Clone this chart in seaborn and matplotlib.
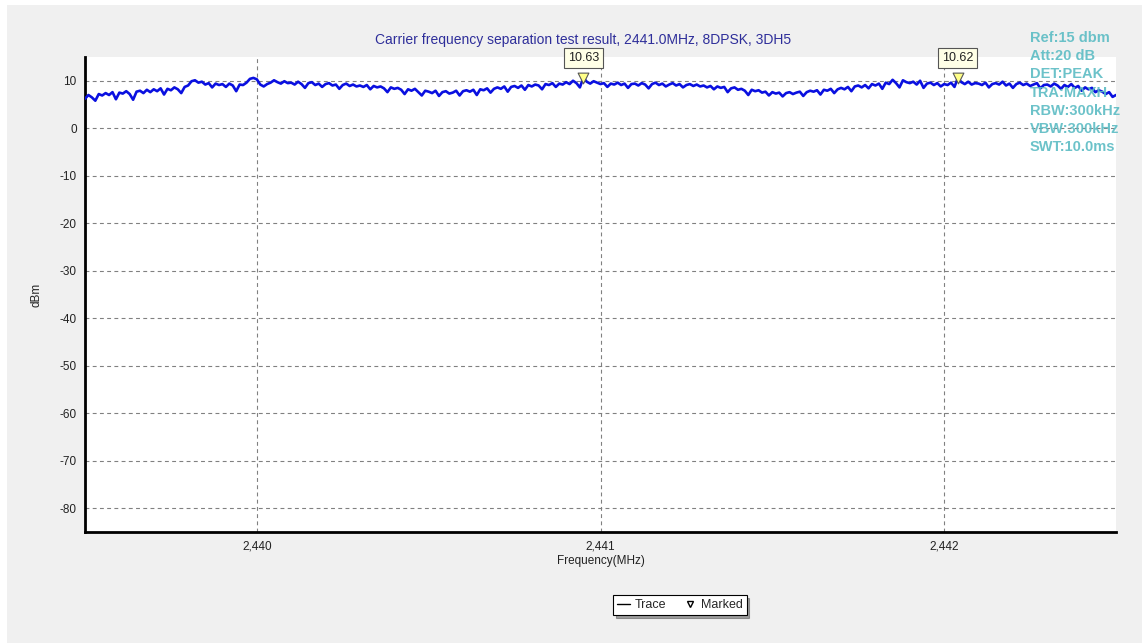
"""
载波频率间隔测试结果 - 频谱迹线重绘
"""

import numpy as np
import pandas as pd
import matplotlib.pyplot as plt
import seaborn as sns
from matplotlib.lines import Line2D
from matplotlib.patches import Rectangle
from matplotlib.ticker import FuncFormatter, MultipleLocator

sns.set_style('white')
plt.rcParams['font.family'] = ['Liberation Sans', 'DejaVu Sans']
plt.rcParams['axes.unicode_minus'] = False

# ============================================================================
# 数据
# ============================================================================
freq_start = 2439.5
freq_stop = 2442.5

# 迹线电平 dBm, 每 0.01 MHz 一个点
trace_dbm = [
    6.2, 7.0, 6.5, 5.8, 7.2, 6.9, 7.4, 7.0, 7.6, 6.1, 7.5, 7.3, 7.8, 7.2, 6.0, 7.7, 7.9, 7.4, 8.1, 7.6,
    8.2, 7.8, 8.4, 7.1, 8.3, 8.0, 8.6, 8.2, 7.4, 8.7, 9.0, 9.9, 10.1, 9.6, 9.8, 9.2, 9.5, 8.6, 9.4, 9.1,
    9.3, 8.7, 9.4, 9.0, 7.8, 9.2, 9.1, 9.6, 10.4, 10.6, 10.3, 9.2, 8.8, 9.3, 9.6, 10.1, 9.7, 9.4, 9.9, 9.5,
    9.6, 9.2, 9.8, 9.3, 8.5, 9.5, 9.7, 9.1, 9.4, 8.7, 9.3, 9.5, 9.0, 9.2, 8.3, 9.1, 9.4, 8.9, 9.2, 8.8,
    9.0, 8.7, 9.1, 8.2, 8.9, 8.6, 8.8, 8.4, 7.6, 8.6, 8.3, 8.5, 8.1, 7.2, 8.2, 7.9, 8.3, 7.6, 6.9, 7.9,
    7.7, 7.4, 7.9, 6.8, 7.6, 7.8, 7.3, 7.5, 7.9, 6.9, 7.8, 8.0, 7.7, 8.1, 7.0, 8.2, 8.0, 8.4, 7.5, 8.3,
    8.6, 8.3, 8.8, 7.7, 8.7, 8.9, 8.5, 9.0, 8.1, 9.1, 8.8, 9.2, 9.0, 8.2, 9.3, 9.1, 9.5, 8.7, 9.4, 9.2,
    9.7, 9.3, 10.0, 9.5, 8.6, 10.63, 9.8, 9.4, 9.9, 9.6, 9.3, 9.5, 8.7, 9.4, 9.2, 9.6, 9.1, 9.4, 8.5, 9.3,
    9.4, 9.0, 9.5, 9.2, 8.4, 9.3, 9.6, 9.1, 9.4, 8.8, 9.2, 9.5, 9.0, 9.3, 8.6, 9.1, 9.3, 8.9, 9.2, 8.8,
    9.0, 8.6, 8.9, 8.2, 8.8, 8.5, 8.7, 7.6, 8.4, 8.6, 8.1, 8.3, 7.9, 7.0, 8.1, 7.8, 8.0, 7.5, 7.7, 6.9,
    7.6, 7.3, 7.5, 6.7, 7.4, 7.6, 7.2, 7.5, 7.7, 6.8, 7.6, 7.9, 7.7, 8.0, 7.1, 8.1, 7.9, 8.3, 7.4, 8.2,
    8.5, 8.2, 8.7, 7.8, 8.8, 9.0, 8.6, 9.1, 8.4, 9.3, 9.0, 9.4, 8.3, 9.6, 9.3, 10.2, 9.5, 8.6, 10.1, 9.7,
    9.5, 9.8, 9.2, 10.0, 8.5, 9.4, 9.6, 9.1, 9.5, 8.8, 9.3, 9.1, 9.6, 8.7, 10.62, 9.7, 9.3, 9.8, 9.2, 9.5,
    9.4, 9.1, 9.6, 8.6, 9.3, 9.5, 9.2, 9.8, 9.0, 9.4, 8.5, 9.3, 9.6, 9.1, 9.4, 8.9, 9.2, 9.5, 8.4, 9.1,
    9.2, 8.8, 9.4, 9.0, 8.3, 9.1, 8.7, 9.3, 8.5, 8.9, 7.9, 8.6, 8.2, 8.5, 7.6, 8.0, 7.7, 7.2, 7.6, 6.6,
    7.0,
]

marker_freqs = [2440.95, 2442.04]
marker_vals = [10.63, 10.62]

setting_lines = ['Ref:15 dbm', 'Att:20 dB', 'DET:PEAK', 'TRA:MAXH',
                 'RBW:300kHz', 'VBW:300kHz', 'SWT:10.0ms']

title_text = 'Carrier frequency separation test result, 2441.0MHz, 8DPSK, 3DH5'

freqs = np.linspace(freq_start, freq_stop, len(trace_dbm))
df = pd.DataFrame({'freq': freqs, 'level': trace_dbm})
mk = pd.DataFrame({'freq': marker_freqs, 'level': marker_vals})

# ============================================================================
# 绘图
# ============================================================================
fig = plt.figure(figsize=(11.47, 6.43), dpi=100, facecolor='white')
fig.patches.append(Rectangle((7 / 1147, 0), 1135 / 1147, 638 / 643,
                             transform=fig.transFigure, facecolor='#f0f0f0',
                             edgecolor='none', zorder=-5))

ax = fig.add_axes([85 / 1147, 1 - 532 / 643, 1031 / 1147, 475 / 643])
ax.set_zorder(1)
ax.set_facecolor('white')

sns.lineplot(data=df, x='freq', y='level', ax=ax, color='#0a10e0',
             linewidth=1.9, estimator=None, zorder=3)
sns.scatterplot(data=mk, x='freq', y='level', ax=ax, marker='v', s=60,
                color='#ffff88', edgecolor='#555555', linewidth=0.8, zorder=5,
                clip_on=False)

ax.set_xlim(freq_start, freq_stop)
ax.set_ylim(-85, 15)
ax.xaxis.set_major_locator(MultipleLocator(1))
ax.xaxis.set_minor_locator(MultipleLocator(0.25))
ax.yaxis.set_major_locator(MultipleLocator(10))
ax.yaxis.set_minor_locator(MultipleLocator(5))
ax.xaxis.set_major_formatter(FuncFormatter(lambda v, p: f'{v:,.0f}'))
ax.yaxis.set_major_formatter(FuncFormatter(lambda v, p: f'{v:.0f}'))
ax.tick_params(axis='both', which='major', direction='out', length=3,
               width=0.8, color='#888888', labelsize=8.5, labelcolor='#222222', pad=3)
ax.tick_params(axis='both', which='minor', direction='out', length=2,
               width=0.8, color='#aaaaaa')
ax.grid(True, which='major', linestyle=(0, (3.5, 3)), color='#808080', linewidth=0.8)

for side in ['top', 'right']:
    ax.spines[side].set_visible(False)
for side in ['left', 'bottom']:
    ax.spines[side].set_linewidth(2)
    ax.spines[side].set_color('black')

ax.set_xlabel('Frequency(MHz)', fontsize=8.5, color='#222222', labelpad=2)
ax.set_ylabel('dBm', fontsize=8.5, color='#222222', labelpad=12)

fig.text(583 / 1147, 1 - 40 / 643, title_text, ha='center', va='center',
         fontsize=10, color='#2e2e9a')

# 标记数值框
for f, v in zip(marker_freqs, marker_vals):
    ax.annotate(f'{v:.2f}', xy=(f, v), xytext=(0, 20), textcoords='offset pixels',
                ha='center', va='center', fontsize=9, color='#222222',
                annotation_clip=False, zorder=6,
                bbox=dict(boxstyle='square,pad=0.3', facecolor='#ffffe6',
                          edgecolor='#555555', linewidth=0.8))

# 右上角仪器设置
for i, line in enumerate(setting_lines):
    fig.text(1030 / 1147, 1 - (38 + i * 18.2) / 643, line, ha='left', va='center',
             fontsize=10.5, fontweight='bold', color='#5cbcc4', alpha=0.9, zorder=10)

handles = [Line2D([], [], color='black', linewidth=1),
           Line2D([], [], marker='v', linestyle='', markerfacecolor='white',
                  markeredgecolor='black', markersize=5)]
leg = fig.legend(handles, ['Trace', 'Marked'], loc='center', ncol=2,
                 bbox_to_anchor=(680 / 1147, 1 - 605 / 643), fontsize=9,
                 frameon=True, fancybox=False, shadow=True, edgecolor='black',
                 handlelength=1.0, handletextpad=0.4, columnspacing=1.4,
                 borderpad=0.3)
leg.get_frame().set_linewidth(0.8)

plt.savefig('out.png', dpi=100)
plt.close()
